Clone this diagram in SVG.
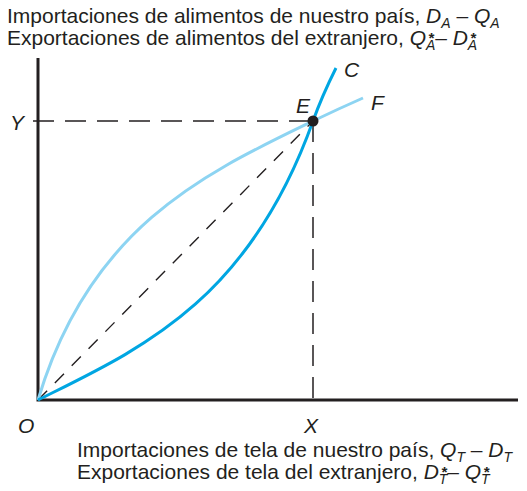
<svg xmlns="http://www.w3.org/2000/svg" width="527" height="491" viewBox="0 0 527 491">
<style>
text{font-family:"Liberation Sans",Arial,sans-serif;font-size:21px;fill:#231f20}
.i{font-style:italic}
.s{font-size:14px;font-style:italic}
.st{font-size:15px;font-style:italic;font-weight:bold}
.axis{stroke:#231f20;stroke-width:3;fill:none}
.dash{stroke:#231f20;stroke-width:1.5;fill:none;stroke-dasharray:21 11}
.ddash{stroke:#231f20;stroke-width:1.4;fill:none;stroke-dasharray:13 11}
.c{stroke:#00a6e2;stroke-width:3;fill:none}
.f{stroke:#8dd4f2;stroke-width:3;fill:none}
</style>
<g id="axes">
<path class="axis" d="M38 58 V400 H518"/>
</g>
<g id="connectors">
<path class="dash" d="M33 121 H313"/>
<path class="dash" d="M313 121 V405"/>
<path class="ddash" d="M38 400 L313 121"/>
<path id="curveF" class="f" d="M38 400 C90 225 208 172 313 121 Q338 109 363 98"/>
<path id="curveC" class="c" d="M38 400 C138 350 248 303 313 121 Q322 96 336 68"/>
</g>
<g id="pointE">
<circle cx="313" cy="121" r="5.5" fill="#231f20"/>
<text class="i" x="296" y="113">E</text>
</g>
<g id="labels">
<text class="i" x="344" y="77">C</text>
<text class="i" x="371" y="110">F</text>
<text class="i" x="10" y="130">Y</text>
<text class="i" x="18" y="433">O</text>
<text class="i" x="304" y="433">X</text>
</g>
<g id="title-y">
<text x="7" y="23">Importaciones de alimentos de nuestro país, <tspan class="i">D</tspan><tspan class="s" dy="5">A</tspan><tspan dy="-5"> – </tspan><tspan class="i">Q</tspan><tspan class="s" dy="5">A</tspan></text>
<text x="7" y="45">Exportaciones de alimentos del extranjero, <tspan class="i">Q</tspan><tspan class="st" dx="2" dy="-2">*</tspan><tspan class="s" dx="-8" dy="7">A</tspan><tspan dy="-5">– </tspan><tspan class="i">D</tspan><tspan class="st" dx="2" dy="-2">*</tspan><tspan class="s" dx="-8" dy="7">A</tspan></text>
</g>
<g id="title-x">
<text x="77" y="457">Importaciones de tela de nuestro país, <tspan class="i">Q</tspan><tspan class="s" dy="5">T</tspan><tspan dy="-5"> – </tspan><tspan class="i">D</tspan><tspan class="s" dy="5">T</tspan></text>
<text x="77" y="479">Exportaciones de tela del extranjero, <tspan class="i">D</tspan><tspan class="st" dx="2" dy="-2">*</tspan><tspan class="s" dx="-8" dy="7">T</tspan><tspan dy="-5">– </tspan><tspan class="i">Q</tspan><tspan class="st" dx="2" dy="-2">*</tspan><tspan class="s" dx="-8" dy="7">T</tspan></text>
</g>
</svg>
